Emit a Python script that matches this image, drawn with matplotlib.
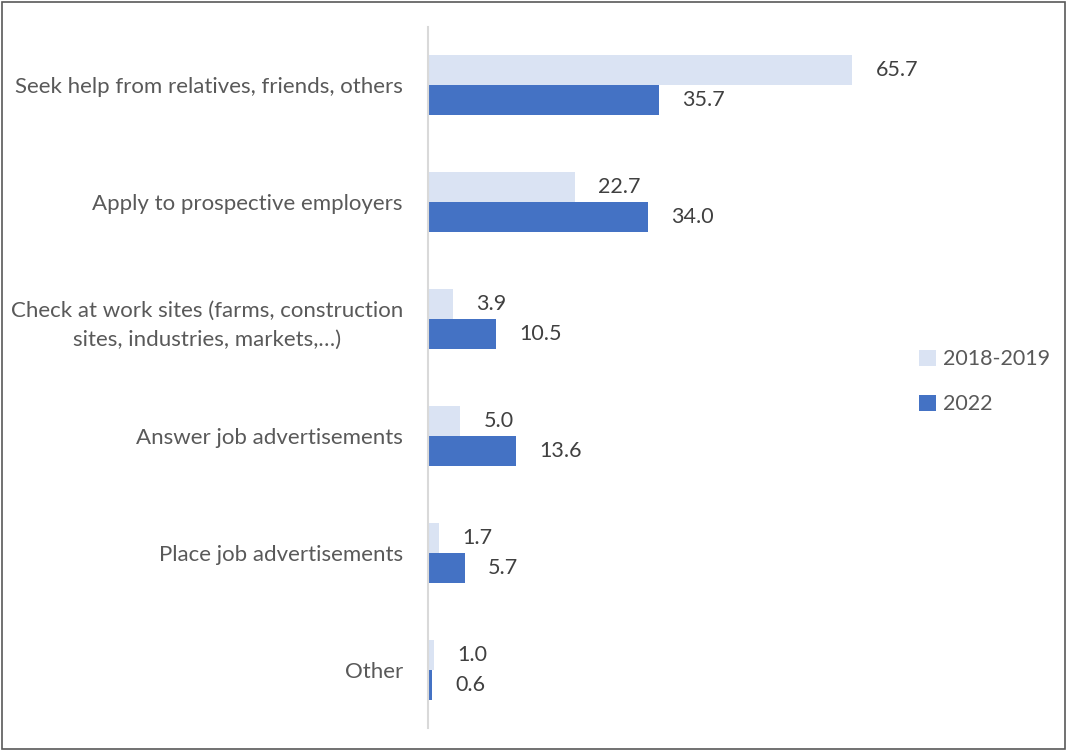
import matplotlib.pyplot as plt
from matplotlib.patches import Rectangle
import numpy as np

# job search methods, share of respondents (%)
categories = ['Seek help from relatives, friends, others',
              'Apply to prospective employers',
              'Check at work sites (farms, construction\nsites, industries, markets,\u2026)',
              'Answer job advertisements',
              'Place job advertisements',
              'Other']
v2018 = [65.7, 22.7, 3.9, 5.0, 1.7, 1.0]
v2022 = [35.7, 34.0, 10.5, 13.6, 5.7, 0.6]
series_names = ['2018-2019', '2022']

light = '#dae3f3'
dark = '#4472c4'
txt = '#595959'

plt.rcParams['font.family'] = ['Lato', 'DejaVu Sans']
fs = 15.5

W, H = 1067, 751
fig = plt.figure(figsize=(W/100, H/100), dpi=100)
ax = fig.add_axes([428/W, 1-728/H, 452/W, 701/H])

y = np.arange(len(categories))
h = 0.257
b1 = ax.barh(y - h/2, v2018, height=h, color=light, label=series_names[0])
b2 = ax.barh(y + h/2, v2022, height=h, color=dark, label=series_names[1])

for bars, vals in ((b1, v2018), (b2, v2022)):
    for r, v in zip(bars, vals):
        ax.text(v + 3.6, r.get_y() + r.get_height()/2, '%.1f' % v,
                va='center', ha='left', fontsize=fs, color='#404040')

ax.set_xlim(0, 70)
ax.set_ylim(len(categories) - 0.5, -0.5)
ax.set_yticks(y)
ax.set_yticklabels(categories, fontsize=16, color=txt)
for t in ax.get_yticklabels():
    t.set_multialignment('center')
    t.set_linespacing(1.55)
ax.tick_params(axis='y', length=0, pad=18)
ax.set_xticks([])
for s in ['top', 'right', 'bottom']:
    ax.spines[s].set_visible(False)
ax.spines['left'].set_color('#d9d9d9')
ax.spines['left'].set_linewidth(1.5)

leg = fig.legend(loc='upper left', bbox_to_anchor=(900/W, 1-330/H), frameon=False,
                 fontsize=fs, labelcolor=txt, handlelength=0.75, handleheight=0.75,
                 handletextpad=0.35, labelspacing=1.15)

fig.patches.append(Rectangle((0.002, 0.002), 0.996, 0.996, transform=fig.transFigure,
                             fill=False, edgecolor='#595959', linewidth=1.2))

fig.savefig('out.png', dpi=100, facecolor='white')
